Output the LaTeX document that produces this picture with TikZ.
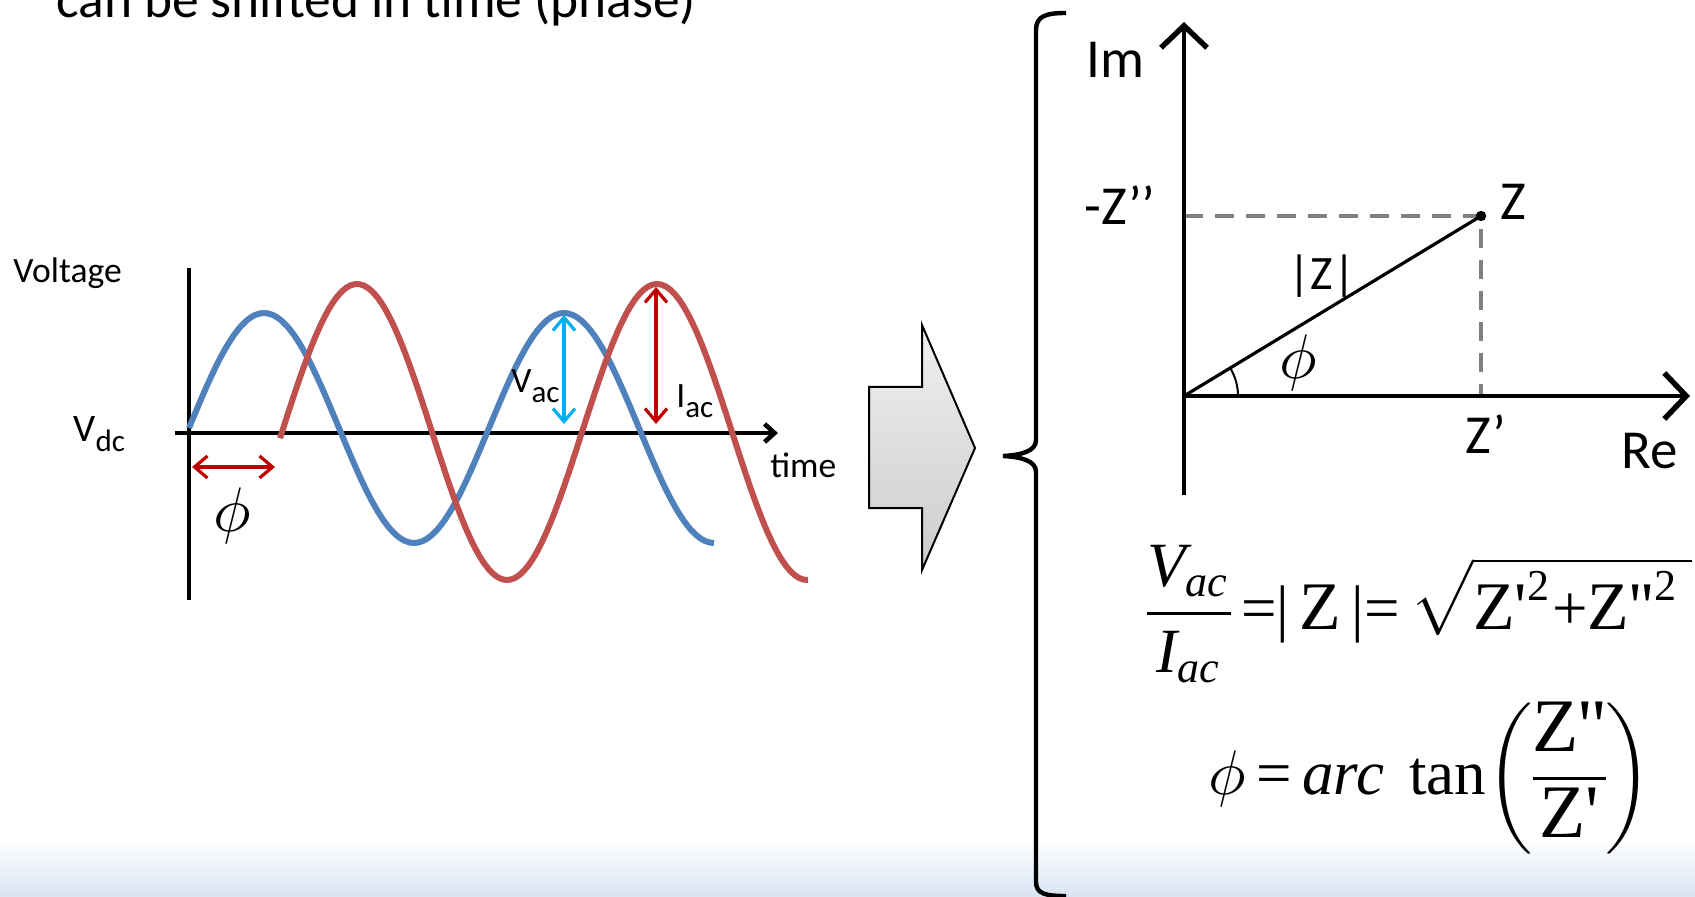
\documentclass[tikz,border=0pt]{standalone}
\usepackage{amsmath}
\usepackage{fontspec}
\setmainfont{Carlito}
\newfontfamily\eqfont[Ligatures=TeXOff]{Liberation Serif}
\usetikzlibrary{arrows.meta}
\definecolor{wblue}{HTML}{4F81BD}
\definecolor{wred}{HTML}{C0504D}
\definecolor{darkred}{HTML}{C00000}
\definecolor{vcyan}{HTML}{00B0F0}
\definecolor{band}{HTML}{D9E4F3}
\newcommand{\ei}[1]{\text{\eqfont\itshape #1}}
\newcommand{\eu}[1]{\text{\eqfont #1}}
\newcommand{\eb}[2][12]{\text{\eqfont\fontsize{#1}{#1}\selectfont #2}}
\newcommand{\lowsub}[1]{\raisebox{-5pt}{\fontsize{15.5}{16}\selectfont #1}}
\begin{document}
\begin{tikzpicture}[x=0.5pt,y=-0.5pt,
    wave/.style={line width=3pt},
    gap/.style={line width=1.6pt,{Straight Barb[length=6.5pt,width=11pt]}-{Straight Barb[length=6.5pt,width=11pt]}},
    axis/.style={line width=1.7pt,-{Straight Barb[length=11pt,width=23pt,line width=2.7pt]}},
    lbl/.style={inner sep=0pt,font=\fontsize{17.8}{20}\selectfont},
    biglbl/.style={inner sep=0pt,font=\fontsize{27.5}{30}\selectfont},
    eq/.style={inner sep=0pt,scale=3}]
    \useasboundingbox (0,0) rectangle (1695,897);
    \shade[top color=white,bottom color=band] (0,838) rectangle (1695,897);
    % title line, cut by the top edge
    \node[anchor=base west,inner sep=0pt,font=\fontsize{26.7}{30}\selectfont] (title) at (56,18) {can be shifted in time (phase)};
    % left: voltage and current waves
    \coordinate (vtop) at (189,268);
    \coordinate (vbot) at (189,600);
    \coordinate (tleft) at (175,433);
    \coordinate (tright) at (778,433);
    \draw[line width=2.3pt] (vtop) -- (vbot);
    \draw[line width=2.3pt,-{Straight Barb[length=5pt,width=9pt]}] (tleft) -- (tright);
    \draw[wave,wblue] plot[domain=189:714,samples=120] (\x,{428-115*sin(1.2*(\x-189))});
    \draw[wave,wred] plot[domain=280:808,samples=120] (\x,{432-148*sin(1.2*(\x-282))});
    \coordinate (vacT) at (564,315);
    \coordinate (vacB) at (564,424);
    \coordinate (iacT) at (656,287);
    \coordinate (iacB) at (656,424);
    \coordinate (phiL) at (192,467);
    \coordinate (phiR) at (275,467);
    \draw[gap,vcyan] (vacT) -- (vacB);
    \draw[gap,darkred] (iacT) -- (iacB);
    \draw[gap,darkred] (phiL) -- (phiR);
    \node[lbl,anchor=base west] (voltage) at (13,283) {Voltage};
    \node[lbl,anchor=base west,font=\fontsize{19.5}{20}\selectfont] (vdc) at (73,442) {V\lowsub{dc}};
    \node[lbl,anchor=base west] (time) at (770,477) {time};
    \node[lbl,anchor=base west] (vac) at (511,393) {V\lowsub{ac}};
    \node[lbl,anchor=base west] (iac) at (676,408) {I\lowsub{ac}};
    \node[eq,scale=1.05] (phil) at (232,516) {$\phi$};
    % block arrow
    \draw[line width=1pt,top color=gray!12,bottom color=gray!40] (869,387) -- (922,387) -- (922,325) -- (975,448) -- (922,570) -- (922,508) -- (869,508) -- cycle;
    % brace
    \draw[line width=2.2pt] (1066,13) .. controls (1046,13) and (1036,16) .. (1036,30) -- (1036,440)
        .. controls (1036,451) and (1022,455) .. (1003,456) .. controls (1022,457) and (1036,461) .. (1036,472)
        -- (1036,882) .. controls (1036,894) and (1046,896) .. (1066,896);
    % right: impedance in the complex plane
    \coordinate (O) at (1184,396);
    \coordinate (imtop) at (1184,22);
    \coordinate (imbot) at (1184,495);
    \coordinate (retip) at (1690,396);
    \coordinate (Zp) at (1481,216);
    \coordinate (Zim) at (1184,216);
    \coordinate (Zre) at (1481,396);
    \draw[gray,line width=1.6pt,dash pattern=on 9.5pt off 6pt] (Zim) -- (Zp) -- (Zre);
    \draw[axis] (imbot) -- (imtop);
    \draw[axis] (O) -- (retip);
    \draw[line width=1.6pt] (O) -- (Zp);
    \fill (Zp) circle[radius=2.6pt];
    \draw[line width=1pt] (O) ++(54,0) arc[start angle=0,end angle=-31.2,radius=54];
    \node[biglbl,anchor=base west] (im) at (1086,78) {Im};
    \node[biglbl,anchor=base west] (re) at (1621,468) {Re};
    \node[biglbl,anchor=base west] (zpp) at (1084,225) {-Z’’};
    \node[biglbl,anchor=base west] (zlab) at (1500,220) {Z};
    \node[biglbl,anchor=base west] (zp) at (1465,453) {Z’};
    \node[inner sep=0pt,font=\fontsize{24}{26}\selectfont] (absz) at (1322,276) {|Z|};
    \node[eq,scale=1.05] (phir) at (1298,363) {$\phi$};
    % equations
    \node[eq,anchor=west,scale=1.05] (eqz) at (1146,614) {\nulldelimiterspace=0pt$\dfrac{\ei{V}_{\ei{ac}}}{\ei{I}_{\ei{ac}}}\,\eu{=|}\,\eb[10.8]{Z}\,\eu{|=}\,\sqrt{\eb[10.8]{Z'}^{\eu{2}}\eu{+}\eb[10.8]{Z''}^{\eu{2}}\hspace{2pt}}$};
    \node[eq,anchor=west,scale=1.05] (eqphi) at (1207,778) {\nulldelimiterspace=0pt$\phi\,\eu{=}\,\ei{arc}\hspace{4pt}\eu{tan}\bigg(\dfrac{\eb{Z''}}{\eb{Z'}}\bigg)$};
\end{tikzpicture}
\end{document}
